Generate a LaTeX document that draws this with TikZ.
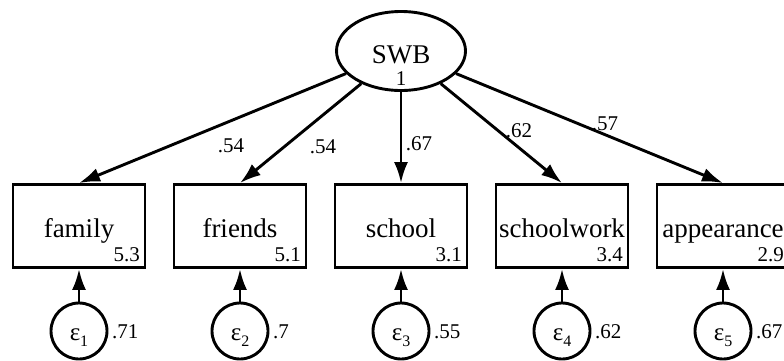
\documentclass[tikz,border=0pt]{standalone}
\usepackage{fontspec}
\setmainfont{Liberation Serif}
\usetikzlibrary{shapes.geometric,arrows.meta}
\begin{document}
\begin{tikzpicture}[x=1pt,y=-1pt,
  lw/.style={line width=2.9pt},
  obs/.style={draw,lw,rectangle,minimum width=132pt,minimum height=83pt,inner sep=0pt},
  lat/.style={draw,lw,ellipse,minimum width=129pt,minimum height=79pt,inner sep=0pt},
  err/.style={draw,lw,circle,minimum size=56pt,inner sep=0pt},
  big/.style={font=\fontsize{27}{30}\selectfont,inner sep=0pt},
  small/.style={font=\fontsize{21}{23}\selectfont,inner sep=0pt},
  arr/.style={lw,-{Latex[length=21pt,width=14pt]}},
]
\useasboundingbox (0,0) rectangle (784,360);
% latent variable
\node[lat] (swb) at (401,51) {};
\node[big,anchor=base] (swbt) at (401,63) {SWB};
\node[small,anchor=base] (swbv) at (401,85) {1};
% observed variables, errors
\foreach \n/\x/\v/\i/\e in {family/79/5.3/1/.71, friends/240/5.1/2/.7, school/401/3.1/3/.55, schoolwork/562/3.4/4/.62, appearance/723/2.9/5/.67}{
  \node[obs] (\n) at (\x,226) {};
  \node[big,anchor=base] (\n t) at (\x,237) {\n};
  \node[small,anchor=base east] (\n v) at (\x+61,261) {\v};
  \node[err] (e\i) at (\x,331) {};
  \node[inner sep=0pt,anchor=base] (e\i t) at (\x,340) {{\fontsize{25}{28}\selectfont ε}\raisebox{-6pt}{\fontsize{16}{18}\selectfont \i}};
  \node[small,anchor=base west] (e\i v) at (\x+33,338) {\e};
  \draw[arr] (e\i) -- (\n);
  \draw[arr] (swb) -- (\n.north);
}
% path coefficients
\node[small,anchor=base] (l1) at (231,152) {.54};
\node[small,anchor=base] (l2) at (323,153) {.54};
\node[small,anchor=base] (l3) at (419,150) {.67};
\node[small,anchor=base] (l4) at (519,137) {.62};
\node[small,anchor=base] (l5) at (605,130) {.57};
\end{tikzpicture}
\end{document}
